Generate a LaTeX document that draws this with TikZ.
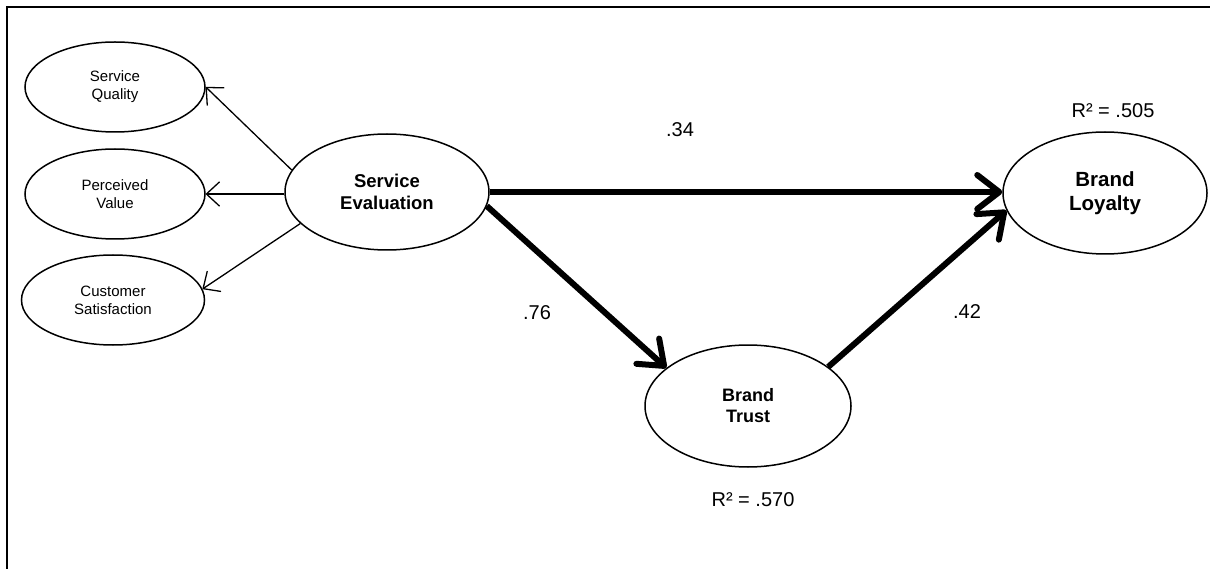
\documentclass[tikz,border=0pt]{standalone}
\usepackage{fontspec}
\setmainfont{Liberation Sans}
\usetikzlibrary{shapes.geometric,arrows.meta}

\tikzset{
  indicator/.style={ellipse, draw, line width=1.5pt, inner sep=0pt,
    minimum width=180pt, minimum height=90pt, align=center,
    font=\fontsize{15}{18}\selectfont},
  construct/.style={ellipse, draw, line width=1.5pt, inner sep=0pt,
    align=center, font=\bfseries\fontsize{18.5}{22.5}\selectfont},
  loading/.style={line width=1.3pt, -{Straight Barb[length=13pt,width=24pt,round]}},
  path coef/.style={line width=6pt, -{Straight Barb[length=22pt,width=34pt,round]}},
  coef/.style={font=\fontsize{20}{24}\selectfont, inner sep=0pt}
}

\begin{document}
\begin{tikzpicture}[x=1pt, y=-1pt]
  \useasboundingbox (0,0) rectangle (1210,569);
  \fill[white] (0,0) rectangle (1210,569);

  % frame (top and left edges)
  \draw[line width=2pt] (7,569) -- (7,7) -- (1210,7);

  % indicators of service evaluation
  \node[indicator] (sq) at (115,87) {Service\\Quality};
  \node[indicator] (pv) at (115,194) {Perceived\\Value};
  \node[indicator, minimum width=183pt] (cs) at (113,300) {Customer\\Satisfaction};

  % latent constructs
  \node[construct, minimum width=204pt, minimum height=116pt] (se) at (387,192) {Service\\Evaluation};
  \node[construct, minimum width=206pt, minimum height=122pt,
        font=\bfseries\fontsize{18}{21}\selectfont] (bt) at (748,406) {Brand\\Trust};
  \node[construct, minimum width=204pt, minimum height=122pt,
        font=\bfseries\fontsize{20.5}{23.5}\selectfont] (bl) at (1105,193) {Brand\\Loyalty};

  % loadings
  \draw[loading] (se.167) -- (sq.east);
  \draw[loading] (se.west |- pv.east) -- (pv.east);
  \draw[loading] (se.200) -- (cs.7);

  % structural paths
  \draw[path coef] (se.east) -- (se.east -| bl.west);
  \draw[path coef] (se.-8) -- (bt.155);
  \draw[path coef] (bt.26) -- (bl.190);

  % coefficients and explained variance
  \node[coef] (c34) at (680,130) {.34};
  \node[coef] (c76) at (537,313) {.76};
  \node[coef] (c42) at (967,312) {.42};
  \node[coef] (r2bl) at (1113,111) {R² = .505};
  \node[coef] (r2bt) at (753,500) {R² = .570};
\end{tikzpicture}
\end{document}
